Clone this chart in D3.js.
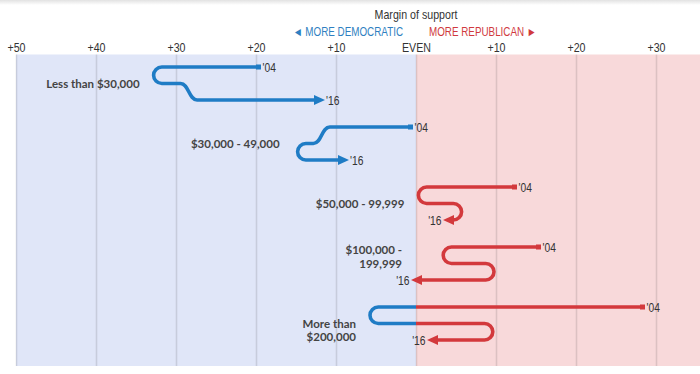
<!DOCTYPE html>
<html>
<head>
<meta charset="utf-8">
<script src="https://cdn.jsdelivr.net/npm/d3@7"></script>
<style>
  html, body { margin: 0; padding: 0; background: #fff; }
  svg { display: block; }
  .narrow { font-family: "Liberation Sans", Arial, sans-serif; }
  .lbl { font-family: Lato, "Open Sans", sans-serif; font-weight: 700; }
</style>
</head>
<body>
<svg id="chart" width="700" height="374"></svg>
<script>
// ---------------- data ----------------
const groups = ["Less than $30,000", "$30,000 - 49,000", "$50,000 - 99,999", "$100,000 - 199,999", "More than $200,000"];
const groupLabelLines = [["Less than $30,000"], ["$30,000 - 49,000"], ["$50,000 - 99,999"], ["$100,000 -", "199,999"], ["More than", "$200,000"]];
// margin of support: negative = more Democratic, positive = more Republican
const margin04 = [-20, -1, 12, 15, 28];
const margin08 = [-32.8, -11.8, 0.3, 3.4, -5.75];
const margin12 = [-28.4, -14.8, 5.7, 9.75, 9.6];
const margin16 = [-12, -9, 4, 0, 2];
const yearStartLabel = "'04";
const yearEndLabel = "'16";
const tickValues = [-50, -40, -30, -20, -10, 0, 10, 20, 30];
const tickLabels = ["+50", "+40", "+30", "+20", "+10", "EVEN", "+10", "+20", "+30"];
const title = "Margin of support";
const demLabel = "\u25C4 MORE DEMOCRATIC";
const repLabel = "MORE REPUBLICAN \u25BA";

// ---------------- layout ----------------
const W = 700, H = 374;
const plotTop = 54.5, plotBottom = 366;
const BLUE = "#1f7cc5", RED = "#d3393c";
const BLUE_BG = "#e0e6f8", RED_BG = "#f8d9da";
const levelGap = 16.5, r = 8.25;
const SX = 0.82; // horizontal condensing for narrow sans text
const labelDx = [0, -4, 0, 0, 0];
const labelDy = [[0], [0], [0], [-13.5, 0], [0, 13]];

const svg = d3.select("#chart");
const x = d3.scaleLinear().domain([-50, 35.5]).range([16, 700]);
const y = d3.scaleBand().domain(groups).range([53.5, 353.5]);
const yMid = g => y(g) + y.bandwidth() / 2;

function narrowText(parent, tx, ty, anchor, size, fill, txt, dy) {
  const g = parent.append("g").attr("transform", `translate(${tx},${ty}) scale(${SX},1)`);
  return g.append("text").attr("class", "narrow").attr("x", 0).attr("y", 0).attr("dy", dy || 0)
    .attr("text-anchor", anchor).attr("font-size", size).attr("fill", fill).text(txt);
}

// top shadow
const defs = svg.append("defs");
const grad = defs.append("linearGradient").attr("id", "shadow").attr("x1", 0).attr("x2", 0).attr("y1", 0).attr("y2", 1);
grad.append("stop").attr("offset", 0).attr("stop-color", "#e2e2e2");
grad.append("stop").attr("offset", 1).attr("stop-color", "#ffffff");
svg.append("rect").attr("x", 0).attr("y", 0).attr("width", W).attr("height", 5).attr("fill", "url(#shadow)");

defs.append("clipPath").attr("id", "clipDem").append("rect")
  .attr("x", 0).attr("y", 0).attr("width", x(0)).attr("height", H);
defs.append("clipPath").attr("id", "clipRep").append("rect")
  .attr("x", x(0)).attr("y", 0).attr("width", W - x(0)).attr("height", H);

// backgrounds
svg.append("rect").attr("x", x(-50)).attr("y", plotTop).attr("width", x(0) - x(-50)).attr("height", plotBottom - plotTop).attr("fill", BLUE_BG);
svg.append("rect").attr("x", x(0)).attr("y", plotTop).attr("width", W - x(0)).attr("height", plotBottom - plotTop).attr("fill", RED_BG);

// grid + axis
const axis = d3.axisTop(x).tickValues(tickValues).tickFormat((d, i) => tickLabels[i]).tickSize(-(plotBottom - plotTop)).tickPadding(3);
const ga = svg.append("g").attr("transform", `translate(0,${plotTop})`).call(axis);
ga.select(".domain").remove();
ga.selectAll(".tick line").attr("stroke", "rgba(0,0,0,0.11)").attr("stroke-width", 1.6);
ga.selectAll(".tick text").attr("class", "narrow").attr("font-size", 13).attr("fill", "#333")
  .attr("y", -2.5).attr("dy", "0").attr("transform", `scale(${SX},1)`);

// header
narrowText(svg, x(0), 18.5, "middle", 13, "#333", title);
narrowText(svg, x(0) - 13, 35.5, "end", 12, "#2f7fc1", demLabel);
narrowText(svg, x(0) + 13, 35.5, "start", 12, "#d0393e", repLabel);

// paths
function buildPath(vals, ym) {
  const levels = [ym - levelGap, ym, ym + levelGap];
  const xs = vals.map(v => x(v));
  const p = d3.path();
  p.moveTo(xs[0], levels[0]);
  for (let i = 0; i < 2; i++) {
    const xa = xs[i], xb = xs[i + 1], xc = xs[i + 2];
    const dIn = Math.sign(xb - xa) || 1, dOut = Math.sign(xc - xb) || 1;
    const y1 = levels[i], y2 = levels[i + 1];
    if (dIn !== dOut) {
      p.lineTo(xb - dIn * r, y1);
      p.arcTo(xb, y1, xb, y1 + r, r);
      p.arcTo(xb, y2, xb - dIn * r, y2, r);
    } else {
      p.lineTo(xb - dIn * r, y1);
      p.bezierCurveTo(xb, y1, xb, y2, xb + dIn * r, y2);
    }
  }
  const dEnd = Math.sign(xs[3] - xs[2]) || 1;
  p.lineTo(xs[3] - dEnd * 4, levels[2]);
  return p.toString();
}

groups.forEach((g, i) => {
  const vals = [margin04[i], margin08[i], margin12[i], margin16[i]];
  const ym = yMid(g);
  const d = buildPath(vals, ym);
  const gg = svg.append("g");
  gg.append("path").attr("d", d).attr("fill", "none").attr("stroke", BLUE).attr("stroke-width", 3.6)
    .attr("clip-path", "url(#clipDem)");
  gg.append("path").attr("d", d).attr("fill", "none").attr("stroke", RED).attr("stroke-width", 3.6)
    .attr("clip-path", "url(#clipRep)");
  // start square
  const x0 = x(vals[0]), yTop = ym - levelGap;
  gg.append("rect").attr("x", x0).attr("y", yTop - 2.5).attr("width", 5).attr("height", 5)
    .attr("fill", vals[0] < 0 ? BLUE : RED);
  narrowText(gg, x0 + 6.5, yTop, "start", 12.5, "#333", yearStartLabel, "0.36em");
  // arrow
  const x3 = x(vals[3]), x2 = x(vals[2]), yBot = ym + levelGap;
  const dir = Math.sign(x3 - x2) || 1;
  const tip = x3 + dir * 5, base = x3 - dir * 6;
  gg.append("path").attr("d", `M${tip},${yBot} L${base},${yBot - 5} L${base},${yBot + 5} Z`)
    .attr("fill", vals[3] < 0 ? BLUE : RED);
  narrowText(gg, dir > 0 ? tip + 1 : tip - 1.5, yBot, dir > 0 ? "start" : "end", 12.5, "#333", yearEndLabel, "0.36em");
  // group label
  const minX = x(d3.min(vals));
  const t = gg.append("text").attr("class", "lbl").attr("text-anchor", "end")
    .attr("font-size", 11.5).attr("fill", "#444");
  groupLabelLines[i].forEach((line, j) => {
    t.append("tspan").attr("x", minX - 14 + labelDx[i]).attr("y", ym + labelDy[i][j]).attr("dy", "0.36em").text(line);
  });
});
</script>
</body>
</html>
